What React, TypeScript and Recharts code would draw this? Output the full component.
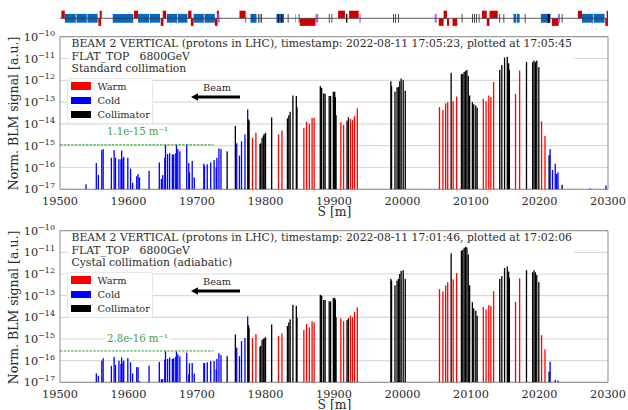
import {
  Bar,
  CartesianGrid,
  ComposedChart,
  ReferenceArea,
  ReferenceLine,
  XAxis,
  YAxis,
} from 'recharts';

const FONT = '"DejaVu Serif", serif';
const TEXT = '#2a2a2a';
const SPINE = '#8c8c8c';
const BAR_WIDTH = 1.3;

const xTicks = [19500, 19600, 19700, 19800, 19900, 20000, 20100, 20200, 20300];
const yTicks = [1e-17, 1e-16, 1e-15, 1e-14, 1e-13, 1e-12, 1e-11, 1e-10];

const legendNames = ['Warm', 'Cold', 'Collimator'];
const kindColors: Record<string, string> = { Warm: '#ff0000', Cold: '#0000ff', Collimator: '#000000' };

// BLM positions [m]
const coldS = [19538, 19553, 19556, 19561, 19563, 19575, 19579, 19581, 19586, 19589, 19590, 19592, 19593, 19599, 19603, 19606, 19612, 19614, 19616, 19630, 19645, 19648, 19650, 19653, 19654, 19657, 19660, 19664, 19666, 19669, 19670, 19672, 19675, 19685, 19688, 19689, 19693, 19696, 19710, 19711, 19715, 19720, 19725, 19728, 19729, 19732, 19735, 19758, 19762, 19765, 19770, 19774, 20215.5, 20219, 20223, 20225, 20227, 20274, 20297];
const warmS = [19781, 19786, 19819, 19824, 19856, 19860, 19864, 19868, 19871, 19910, 19914, 19924, 19927, 19930, 19934, 20054, 20059, 20063, 20066, 20074, 20079, 20118, 20122, 20126, 20129, 20133, 20165, 20171, 20203, 20208];
const collS = [19744, 19756, 19775, 19776, 19792, 19793, 19795, 19797, 19798, 19800, 19809, 19832, 19834, 19836, 19840, 19845, 19846, 19880, 19882, 19885, 19887, 19893, 19895, 19899, 19901, 19902, 19903, 19919, 19921, 19983, 19984, 19989, 19992, 19994, 19996, 19998, 20001, 20004, 20071, 20086, 20088, 20090, 20092, 20094, 20096, 20098, 20102, 20104, 20107, 20109, 20142, 20145, 20149, 20153, 20155, 20156, 20181, 20190, 20192, 20194, 20196, 20199, 20214, 20233];

// top panel: standard collimation
const coldTop = [1.7e-17, 1.6e-16, 4.6e-17, 6.3e-16, 7e-16, 2.8e-16, 6.3e-16, 2.8e-16, 2.4e-16, 2.4e-16, 6e-16, 2.5e-16, 3e-16, 2.8e-16, 8.8e-17, 2e-17, 4e-17, 5e-17, 3.5e-17, 7e-17, 1.7e-16, 3e-17, 4.5e-17, 2.8e-16, 1.1e-15, 4.2e-16, 4.5e-16, 4e-16, 4e-16, 4.5e-16, 1.1e-15, 7e-16, 5.5e-16, 1.15e-15, 1.6e-16, 6e-17, 2e-16, 3.5e-17, 1.5e-16, 1.2e-16, 1.4e-16, 1.7e-16, 2.2e-16, 1e-16, 2.8e-16, 7.5e-16, 7e-16, 1.3e-15, 3.5e-16, 1.6e-15, 3.3e-15, 4.6e-14, 7e-16, 7.7e-17, 1.5e-16, 5e-17, 6e-17, 1.1e-17, 1.5e-17];
const warmTop = [2.3e-15, 3.9e-15, 3.3e-15, 5e-15, 6.5e-15, 1.25e-14, 1e-14, 1.9e-14, 1.9e-14, 1.2e-14, 9e-15, 1.7e-14, 1.5e-14, 2.3e-14, 5.2e-14, 5.9e-14, 4.3e-14, 8.7e-14, 1e-13, 1.1e-13, 1.8e-13, 1.4e-13, 1.1e-13, 2e-13, 1.7e-13, 8.5e-13, 2.4e-13, 2.8e-12, 1.3e-14, 2.8e-15];
const collTop = [5.5e-16, 8e-15, 1.6e-14, 1.4e-14, 1.2e-15, 1.3e-15, 2.3e-15, 2.9e-15, 3.4e-15, 3.9e-15, 2e-14, 1.8e-14, 2.5e-14, 3.6e-14, 2e-13, 1.9e-13, 5.8e-14, 5.4e-13, 4.5e-13, 2.5e-13, 2.4e-13, 1.9e-13, 1.9e-13, 3e-13, 3e-13, 1.7e-13, 2.5e-14, 1.4e-14, 2e-14, 9e-13, 5.4e-13, 3e-13, 4.7e-13, 5e-13, 9e-13, 1.2e-12, 1e-12, 3.3e-13, 2.2e-12, 1.9e-12, 2e-12, 2.4e-12, 2.7e-12, 3e-12, 1.6e-12, 2e-13, 1e-13, 8e-14, 7e-14, 5.5e-14, 3e-12, 5e-12, 1.1e-11, 1.2e-11, 6e-12, 3e-12, 7e-12, 6.8e-12, 8e-12, 6.8e-12, 8e-12, 4e-12, 3.7e-16, 1.6e-17];

// bottom panel: crystal collimation
const coldBottom = [null, 2.6e-17, 2e-17, 1e-16, 1.3e-16, 5.7e-17, 1.5e-16, 6.3e-17, 1e-16, 7e-17, 1.4e-16, 8e-17, 1e-16, 1.3e-16, 8.4e-17, 2.6e-17, 5e-17, 5e-17, 1.1e-17, 5.9e-17, 8.7e-17, 1.4e-17, 1.4e-17, 1.1e-16, 2.8e-16, 1.2e-16, 1.4e-16, 1.2e-16, 1.3e-16, 1.5e-16, 2.7e-16, 2e-16, 1.6e-16, 2.3e-16, 2.3e-17, 7.5e-17, 7.8e-17, 2.5e-17, 7.8e-17, 7.8e-17, 8.4e-17, 9.6e-17, 9.6e-17, 4e-17, 1.2e-16, 2.2e-16, 1.8e-16, 4e-16, 1.6e-16, 8e-16, 1.1e-15, 1.1e-14, 9e-17, null, 1.3e-17, null, 1.2e-17, null, null];
const warmBottom = [1.1e-15, 1.7e-15, 1.4e-15, 1.8e-15, 2.6e-15, 4.9e-15, 3.4e-15, 6.6e-15, 5.8e-15, 9e-15, 6.6e-15, 1.2e-14, 1e-14, 1.8e-14, 2.9e-14, 2e-13, 1.6e-13, 3e-13, 4.2e-13, 5.7e-13, 1.1e-12, 3e-14, 2.3e-14, 3.7e-14, 3.3e-14, 1.6e-13, 5.2e-14, 6.3e-13, 1.5e-15, 3.3e-16];
const collBottom = [1.6e-16, 1.6e-15, 4.4e-15, 3.4e-15, 4.4e-16, 4.8e-16, 9e-16, 1e-15, 1.1e-15, 1.2e-15, 4.7e-15, 4e-15, 5.8e-15, 8e-15, 3.8e-14, 3.4e-14, 1e-14, 1.1e-13, 1e-13, 6.3e-14, 6.3e-14, 5.5e-14, 5.4e-14, 7.7e-14, 8e-14, 6.5e-14, 1e-14, 7.5e-15, 9e-15, 6e-13, 5e-13, 3e-13, 5e-13, 6e-13, 1e-12, 1.4e-12, 1.5e-12, 6e-13, 9e-12, 1.2e-11, 1.3e-11, 1.6e-11, 1.8e-11, 1.7e-11, 8e-12, 3e-13, 5e-14, 2.6e-14, 2e-14, 1.2e-14, 6e-13, 8e-13, 1.9e-12, 2.2e-12, 1.3e-12, 6.5e-13, 1.5e-12, 1.2e-12, 1.5e-12, 1.2e-12, 9e-13, 4.2e-13, 3.1e-17, null];

// machine layout strip: [start, end] in metres
const stripBlue = [[19507, 19523], [19524, 19539], [19540, 19555], [19577, 19607], [19614, 19630], [19631, 19646], [19656, 19671], [19672, 19686], [19695, 19710], [19711, 19726], [19778, 19787], [19816, 19827], [20162, 20166], [20167, 20171], [20202, 20216], [20262, 20278], [20279, 20295]];
const stripRedUp = [[19502, 19507], [19558, 19561], [19608, 19614], [19650, 19655], [19687, 19692], [19729, 19732], [19762, 19771], [19906, 19916], [19922, 19936], [20060, 20065], [20116, 20123], [20127, 20139], [20256, 20262], [20298, 20300]];
const stripRedDown = [[19556, 19560], [19647, 19651], [19691, 19695], [19726, 19730], [19850, 19873], [20053, 20060], [20065, 20068], [20073, 20080], [20123, 20127], [20218, 20228], [20296, 20300]];
const stripPurple = [[19730, 19733], [19770, 19772], [19873, 19877], [19937, 19939], [20047, 20050], [20111, 20113], [20227, 20230]];
const stripBlack = [[19789.5, 19790.5], [19791.5, 19792.5], [19793.5, 19794.5], [19818, 19819.5], [19823, 19824.5], [19832.5, 19833.5], [19848.5, 19849.5], [19892.5, 19893.5], [19896.5, 19897.5], [19917.5, 19919.5], [19986.5, 19987.5], [19989.5, 19990.5], [19993.5, 19994.5], [20086.5, 20087.5], [20101.5, 20102.5], [20104.5, 20105.5], [20107.5, 20108.5], [20141.5, 20142.5], [20147.5, 20148.5], [20178.5, 20179.5], [20212, 20215], [20232.5, 20233.5]];
const stripGrey = [[19843.5, 19844.5]];

const topInfo = {
  lines: ['BEAM 2 VERTICAL (protons in LHC), timestamp: 2022-08-11 17:05:23, plotted at 17:05:45', 'FLAT_TOP   6800GeV', 'Standard collimation'],
  threshold: 1.1e-15,
  thresholdLabel: '1.1e-15 m⁻¹',
  labelTop: 124.5,
  titleY: 216,
};
const bottomInfo = {
  lines: ['BEAM 2 VERTICAL (protons in LHC), timestamp: 2022-08-11 17:01:46, plotted at 17:02:06', 'FLAT_TOP   6800GeV', 'Cystal collimation (adiabatic)'],
  threshold: 2.8e-16,
  thresholdLabel: '2.8e-16 m⁻¹',
  labelTop: 137.5,
  titleY: 214.5,
};

function buildRows(cold: (number | null)[], warm: (number | null)[], coll: (number | null)[]) {
  const rows: { s: number; v: number; kind: string }[] = [];
  coldS.forEach((s, i) => cold[i] != null && rows.push({ s, v: cold[i] as number, kind: 'Cold' }));
  warmS.forEach((s, i) => warm[i] != null && rows.push({ s, v: warm[i] as number, kind: 'Warm' }));
  collS.forEach((s, i) => coll[i] != null && rows.push({ s, v: coll[i] as number, kind: 'Collimator' }));
  return rows;
}

// Recharts squeezes the bars to the smallest gap on a number axis, so widen them around their own centre
function BlmBar({ x, y, width, height, payload }: any) {
  return <rect x={x + width / 2 - BAR_WIDTH / 2} y={y} width={BAR_WIDTH} height={height} fill={kindColors[payload.kind]} />;
}

function PowerTick({ x, y, payload }: any) {
  const exp = Math.round(Math.log10(payload.value));
  return (
    <text x={x} y={y + 4} textAnchor="end" fontFamily={FONT} fontSize={11.3} fill={TEXT}>
      10
      <tspan dy={-5} fontSize={8}>{'\u2212' + Math.abs(exp)}</tspan>
    </text>
  );
}

function YTitle() {
  return (
    <text x={18} y={113.5} transform="rotate(-90 18 113.5)" textAnchor="middle" fontFamily={FONT} fontSize={12.5} fill={TEXT}>
      Norm. BLM signal [a.u.]
    </text>
  );
}

function XTitle({ baseY }: any) {
  return (
    <text x={334.5} y={baseY} textAnchor="middle" fontFamily={FONT} fontSize={12.4} fill={TEXT}>
      S [m]
    </text>
  );
}

function Panel({ top, bottomMargin, rows, info }: any) {
  return (
    <div style={{ position: 'absolute', left: 0, top, width: 628, height: 220 }}>
      <ComposedChart
        width={628}
        height={220}
        data={rows}
        margin={{ top: 36.7, right: 20, bottom: bottomMargin, left: 0 }}
      >
        <CartesianGrid horizontal vertical={false} stroke="#d9d9d9" strokeWidth={1.2} />
        <XAxis
          dataKey="s"
          type="number"
          domain={[19500, 20300]}
          ticks={xTicks}
          interval={0}
          height={20}
          tickLine={false}
          axisLine={false}
          tick={{ fontFamily: FONT, fontSize: 11.3, fill: TEXT }}
          tickMargin={2}
          label={<XTitle baseY={info.titleY} />}
        />
        <YAxis
          scale="log"
          type="number"
          domain={[1e-17, 1e-10]}
          allowDataOverflow
          ticks={yTicks}
          interval={0}
          width={60}
          tickLine={false}
          axisLine={false}
          tickSize={3}
          tick={<PowerTick />}
          label={<YTitle />}
        />
        <ReferenceArea x1={19512} x2={20250} y1={2e-12} y2={1e-10} fill="#ffffff" fillOpacity={0.85} stroke="none" />
        <Bar dataKey="v" shape={<BlmBar />} isAnimationActive={false} />
        <ReferenceLine
          segment={[{ x: 19500, y: info.threshold }, { x: 19724, y: info.threshold }]}
          stroke="#2ca02c"
          strokeDasharray="2.5 1.2"
        />
        <ReferenceArea x1={19500} x2={20300} y1={1e-17} y2={1e-10} fill="none" stroke={SPINE} strokeWidth={1} />
      </ComposedChart>

      {/* text block */}
      <div style={{ position: 'absolute', left: 71.5, top: 38, fontFamily: FONT, fontSize: 10.8, lineHeight: '12.6px', color: TEXT, whiteSpace: 'pre' }}>
        {info.lines.map((l: string) => (
          <div key={l}>{l}</div>
        ))}
      </div>

      {/* legend */}
      <div style={{ position: 'absolute', left: 66.5, top: 77.5, width: 86, height: 46, background: 'rgba(255,255,255,0.85)', border: '1px solid #e6e6e6', borderRadius: 2, boxSizing: 'border-box' }}>
        {legendNames.map((n, i) => (
          <div key={n} style={{ position: 'absolute', left: 3, top: 3.5 + i * 14.3, display: 'flex', alignItems: 'center', height: 8 }}>
            <div style={{ width: 20, height: 7.5, background: kindColors[n] }} />
            <span style={{ marginLeft: 7, fontFamily: FONT, fontSize: 9.8, color: TEXT }}>{n}</span>
          </div>
        ))}
      </div>

      {/* beam arrow */}
      <div style={{ position: 'absolute', left: 203, top: 82, fontFamily: FONT, fontSize: 9.8, color: TEXT }}>Beam</div>
      <svg style={{ position: 'absolute', left: 0, top: 0 }} width={628} height={220} pointerEvents="none">
        <polygon points="191,97 198,93.2 198,95.5 240,95.5 240,98.5 198,98.5 198,100.8" fill="#000" />
      </svg>

      {/* threshold label */}
      <div style={{ position: 'absolute', left: 105, top: info.labelTop, padding: '0 2px', background: '#fff', fontFamily: FONT, fontSize: 10.2, lineHeight: '13px', color: '#3fa53f', whiteSpace: 'pre' }}>
        {info.thresholdLabel}
      </div>
    </div>
  );
}

function LayoutStrip() {
  const blocks = (list: number[][], y1: number, y2: number, fill: string, key: string) =>
    list.map(([a, b]) => (
      <ReferenceArea key={key + a} x1={a} x2={b} y1={y1} y2={y2} fill={fill} fillOpacity={1} stroke="none" />
    ));
  const anchors = stripBlue.map(([a]) => ({ s: a, y: 0 }));
  return (
    <div style={{ position: 'absolute', left: 0, top: 0, width: 628, height: 36, zIndex: 2 }}>
      <ComposedChart width={628} height={36} data={anchors} margin={{ top: 10.3, right: 20, bottom: 9.7, left: 60 }}>
        <XAxis dataKey="s" type="number" domain={[19500, 20300]} hide />
        <YAxis dataKey="y" type="number" domain={[-1, 1]} hide />
        <ReferenceLine y={0} stroke="#333333" strokeWidth={0.8} />
        {blocks(stripBlue, -0.55, 0.55, '#0667c4', 'b')}
        {blocks(stripRedUp, 0, 0.95, '#cc0000', 'u')}
        {blocks(stripRedDown, -0.95, 0, '#cc0000', 'd')}
        {blocks(stripPurple, -0.55, 0.55, '#b96ad6', 'p')}
        {blocks(stripGrey, -0.55, 0.55, '#888888', 'g')}
        {blocks(stripBlack, -0.55, 0.55, '#000000', 'k')}
      </ComposedChart>
    </div>
  );
}

export default function App() {
  return (
    <div style={{ position: 'absolute', left: 0, top: 0, width: 628, height: 410, overflow: 'hidden', background: '#fff' }}>
      <Panel top={0} bottomMargin={10.7} rows={buildRows(coldTop, warmTop, collTop)} info={topInfo} />
      <Panel top={194} bottomMargin={11.7} rows={buildRows(coldBottom, warmBottom, collBottom)} info={bottomInfo} />
      <LayoutStrip />
    </div>
  );
}
